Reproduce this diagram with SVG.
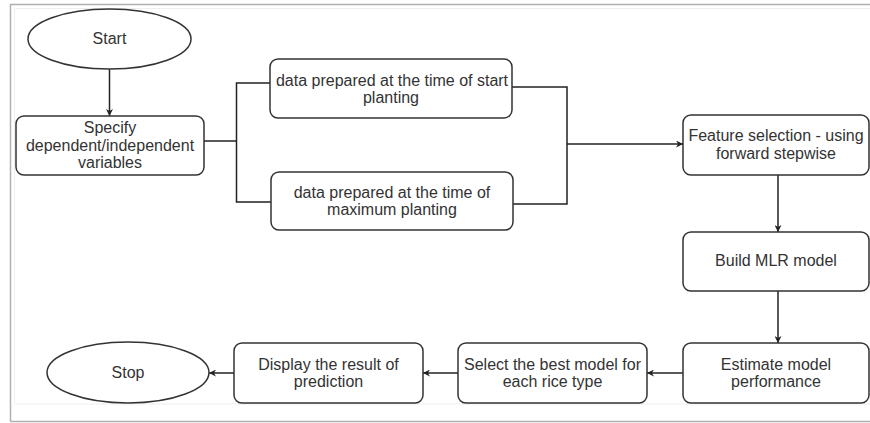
<svg xmlns="http://www.w3.org/2000/svg" width="870" height="423" viewBox="0 0 870 423">
  <style>
    .shape { fill: #ffffff; stroke: #333333; stroke-width: 1.5; }
    .label { font-family: "Liberation Sans", Arial, sans-serif; font-size: 16px; fill: #333333; text-anchor: middle; }
    .wire { fill: none; stroke: #222222; stroke-width: 1.5; }
    .arrow { fill: none; stroke: #222222; stroke-width: 1.5; marker-end: url(#head); }
  </style>
  <defs>
    <marker id="head" viewBox="0 0 10 10" refX="10" refY="5" markerWidth="7" markerHeight="7" markerUnits="userSpaceOnUse" orient="auto">
      <path d="M0,0 L10,5 L0,10 L3,5 z" fill="#222222"/>
    </marker>
  </defs>

  <rect width="870" height="423" fill="#ffffff"/>
  <!-- page frame -->
  <path d="M10.5,421.5 V4.5 H870" fill="none" stroke="#b0b0b0" stroke-width="1.5"/>
  <path d="M10.5,421.5 H870" fill="none" stroke="#b0b0b0" stroke-width="1.5"/>
  <path d="M14.5,404 V8.5 H870 M14.5,404 H870" fill="none" stroke="#eeeeee" stroke-width="1"/>

  <g id="connectors">
    <path class="arrow" d="M109.5,69 V116"/>
    <path class="wire" d="M204,141 H236.5"/>
    <path class="wire" d="M270,83 H236.5 V202 H271"/>
    <path class="wire" d="M512,87 H567 V204 H513"/>
    <path class="arrow" d="M567,144 H683"/>
    <path class="arrow" d="M778,175 V232"/>
    <path class="arrow" d="M778,291 V343"/>
    <path class="arrow" d="M683,373 H647"/>
    <path class="arrow" d="M458,373 H423"/>
    <path class="arrow" d="M234,373 H209"/>
  </g>

  <g id="start">
    <ellipse class="shape" cx="109.5" cy="39" rx="81.5" ry="30"/>
    <text class="label" x="109.5" y="43.5">Start</text>
  </g>

  <g id="specify">
    <rect class="shape" x="16" y="116" width="188" height="59" rx="8"/>
    <text class="label" x="110" y="133">Specify</text>
    <text class="label" x="110" y="150.5">dependent/independent</text>
    <text class="label" x="110" y="168">variables</text>
  </g>

  <g id="data-start">
    <rect class="shape" x="270" y="59" width="242" height="59" rx="8"/>
    <text class="label" x="392" y="85.5">data prepared at the time of start</text>
    <text class="label" x="391" y="103">planting</text>
  </g>

  <g id="data-max">
    <rect class="shape" x="271" y="172" width="242" height="58" rx="8"/>
    <text class="label" x="392" y="197.5">data prepared at the time of</text>
    <text class="label" x="392" y="215">maximum planting</text>
  </g>

  <g id="feature">
    <rect class="shape" x="683" y="115" width="186" height="60" rx="8"/>
    <text class="label" x="776" y="141">Feature selection - using</text>
    <text class="label" x="776" y="158.5">forward stepwise</text>
  </g>

  <g id="build">
    <rect class="shape" x="683" y="232" width="186" height="59" rx="8"/>
    <text class="label" x="776" y="266">Build MLR model</text>
  </g>

  <g id="estimate">
    <rect class="shape" x="683" y="343" width="186" height="60" rx="8"/>
    <text class="label" x="776" y="369.5">Estimate model</text>
    <text class="label" x="776" y="387">performance</text>
  </g>

  <g id="select">
    <rect class="shape" x="458" y="343" width="189" height="60" rx="8"/>
    <text class="label" x="552.5" y="369.5">Select the best model for</text>
    <text class="label" x="552.5" y="387">each rice type</text>
  </g>

  <g id="display">
    <rect class="shape" x="234" y="343" width="189" height="60" rx="8"/>
    <text class="label" x="328.5" y="369.5">Display the result of</text>
    <text class="label" x="328.5" y="387">prediction</text>
  </g>

  <g id="stop">
    <ellipse class="shape" cx="128" cy="372.5" rx="81" ry="30.5"/>
    <text class="label" x="128" y="378">Stop</text>
  </g>
</svg>
